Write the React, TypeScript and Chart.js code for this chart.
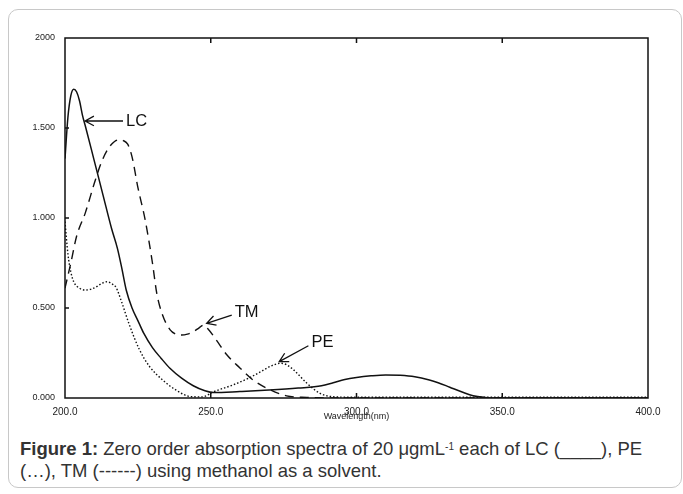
import React, { useEffect, useRef } from "react";
import { Chart, registerables } from "chart.js";

Chart.register(...registerables);

// LC (solid)
const lcWavelength = [200, 201, 202, 203, 204, 205, 206, 207, 210, 213, 216, 218, 219.5, 221, 223, 225, 227, 230, 233, 236, 240, 244, 248, 251, 260, 270, 280, 288, 292, 296, 300, 305, 310, 315, 320, 325, 328, 332, 336, 340, 344, 348, 400];
const lcAbsorbance = [1.33, 1.56, 1.68, 1.715, 1.7, 1.65, 1.57, 1.51, 1.32, 1.13, 0.94, 0.83, 0.72, 0.6, 0.5, 0.43, 0.36, 0.28, 0.22, 0.165, 0.11, 0.068, 0.04, 0.03, 0.036, 0.044, 0.055, 0.068, 0.085, 0.103, 0.114, 0.123, 0.128, 0.126, 0.118, 0.1, 0.085, 0.06, 0.035, 0.012, 0.003, 0.0, 0.0];

// TM (dashed)
const tmWavelength = [200, 202, 204, 207, 210, 212.5, 215, 217, 218.5, 220, 221.5, 223, 225, 227.5, 230, 231.5, 233.5, 236, 238, 240, 242, 244, 246, 247.5, 249, 252, 255.5, 260, 264.5, 270, 276, 283, 290, 400];
const tmAbsorbance = [0.61, 0.75, 0.9, 1.03, 1.19, 1.31, 1.39, 1.425, 1.435, 1.43, 1.41, 1.34, 1.17, 0.99, 0.75, 0.58, 0.46, 0.38, 0.355, 0.35, 0.355, 0.368, 0.39, 0.405, 0.385, 0.32, 0.24, 0.167, 0.1, 0.048, 0.012, 0.003, 0.0, 0.0];

// PE (dotted)
const peWavelength = [200, 201, 202, 203, 205, 207, 209, 211, 213, 214.5, 216, 217.5, 219.5, 222, 225.5, 229, 233.5, 238, 243, 247, 251, 257.5, 263, 267, 271, 274, 276, 278.5, 283, 287.5, 292, 300, 400];
const peAbsorbance = [0.98, 0.8, 0.7, 0.645, 0.61, 0.6, 0.605, 0.62, 0.64, 0.646, 0.635, 0.615, 0.53, 0.41, 0.27, 0.175, 0.1, 0.045, 0.008, 0.006, 0.035, 0.072, 0.11, 0.145, 0.18, 0.193, 0.185, 0.155, 0.082, 0.026, 0.007, 0.004, 0.004];

const xTickValues = [200, 250, 300, 350, 400];
const xTickLabels = ["200.0", "250.0", "300.0", "350.0", "400.0"];
const yTickValues = [0, 0.5, 1, 1.5, 2];
const yTickLabels = ["0.000", "0.500", "1.000", "1.500", "2000"];

// annotations
const annotationLabels = ["LC", "TM", "PE"];
const annotationTips = [[206.9, 1.539], [248.6, 0.415], [273.5, 0.202]];
const annotationTails = [[219.9, 1.539], [257.2, 0.461], [283.5, 0.29]];

const toPoints = (xs: number[], ys: number[]) => xs.map((x, i) => ({ x, y: ys[i] }));

const framePlugin = {
  id: "frame",
  afterDatasetsDraw(chart: any) {
    const { ctx, chartArea: a, scales } = chart;
    const xs = scales.x;
    const ys = scales.y;
    ctx.save();
    ctx.strokeStyle = "#111";
    ctx.lineWidth = 1.5;
    ctx.strokeRect(a.left, a.top, a.right - a.left, a.bottom - a.top);
    ctx.beginPath();
    xTickValues.slice(1, -1).forEach((v) => {
      const px = xs.getPixelForValue(v);
      ctx.moveTo(px, a.bottom);
      ctx.lineTo(px, a.bottom - 5);
      ctx.moveTo(px, a.top);
      ctx.lineTo(px, a.top + 5);
    });
    yTickValues.slice(1, -1).forEach((v) => {
      const py = ys.getPixelForValue(v);
      ctx.moveTo(a.left, py);
      ctx.lineTo(a.left + 4, py);
    });
    ctx.stroke();

    // axis title
    ctx.fillStyle = "#222";
    ctx.font = "9px 'Liberation Sans', Arial, sans-serif";
    ctx.textAlign = "center";
    ctx.textBaseline = "middle";
    ctx.fillText("Wavelength(nm)", xs.getPixelForValue(300), a.bottom + 19);

    // annotations
    ctx.strokeStyle = "#111";
    ctx.lineWidth = 1.3;
    ctx.font = "16.5px 'Liberation Sans', Arial, sans-serif";
    ctx.textAlign = "left";
    annotationLabels.forEach((label, i) => {
      const tx = xs.getPixelForValue(annotationTips[i][0]);
      const ty = ys.getPixelForValue(annotationTips[i][1]);
      const sx = xs.getPixelForValue(annotationTails[i][0]);
      const sy = ys.getPixelForValue(annotationTails[i][1]);
      const ang = Math.atan2(ty - sy, tx - sx);
      const head = 10;
      const spread = 0.5;
      ctx.beginPath();
      ctx.moveTo(sx, sy);
      ctx.lineTo(tx, ty);
      ctx.moveTo(tx - head * Math.cos(ang - spread), ty - head * Math.sin(ang - spread));
      ctx.lineTo(tx, ty);
      ctx.lineTo(tx - head * Math.cos(ang + spread), ty - head * Math.sin(ang + spread));
      ctx.stroke();
      ctx.fillStyle = "#111";
      ctx.fillText(label, sx + 3, sy - (i === 0 ? 0 : 3));
    });
    ctx.restore();
  },
};

export default function App() {
  const canvasRef = useRef<HTMLCanvasElement | null>(null);

  useEffect(() => {
    if (!canvasRef.current) return;
    const family = "'Liberation Sans', Arial, sans-serif";
    const chart = new Chart(canvasRef.current, {
      type: "line",
      data: {
        datasets: [
          {
            label: "LC",
            data: toPoints(lcWavelength, lcAbsorbance),
            borderColor: "#111",
            borderWidth: 1.5,
            pointRadius: 0,
            cubicInterpolationMode: "monotone",
            fill: false,
          },
          {
            label: "TM",
            data: toPoints(tmWavelength, tmAbsorbance),
            borderColor: "#111",
            borderWidth: 1.4,
            borderDash: [9, 6],
            pointRadius: 0,
            cubicInterpolationMode: "monotone",
            fill: false,
          },
          {
            label: "PE",
            data: toPoints(peWavelength, peAbsorbance),
            borderColor: "#111",
            borderWidth: 1.4,
            borderDash: [1.5, 2],
            pointRadius: 0,
            cubicInterpolationMode: "monotone",
            fill: false,
          },
        ],
      },
      options: {
        responsive: false,
        animation: false,
        devicePixelRatio: 1,
        layout: { padding: { top: 38, right: 35, left: 0, bottom: 0 } },
        plugins: { legend: { display: false }, tooltip: { enabled: false } },
        scales: {
          x: {
            type: "linear",
            min: 200,
            max: 400,
            grid: { display: false },
            border: { display: false },
            afterBuildTicks: (s: any) => {
              s.ticks = xTickValues.map((v) => ({ value: v }));
            },
            afterFit: (s: any) => {
              s.height = 32;
            },
            ticks: {
              color: "#222",
              font: { family, size: 10 },
              padding: 0,
              maxRotation: 0,
              autoSkip: false,
              callback: (v: any) => xTickLabels[xTickValues.indexOf(Number(v))] ?? "",
            },
          },
          y: {
            type: "linear",
            min: 0,
            max: 2,
            grid: { display: false },
            border: { display: false },
            afterBuildTicks: (s: any) => {
              s.ticks = yTickValues.map((v) => ({ value: v }));
            },
            afterFit: (s: any) => {
              s.width = 65;
            },
            ticks: {
              color: "#222",
              font: { family, size: 9 },
              padding: 2,
              autoSkip: false,
              callback: (v: any) => yTickLabels[yTickValues.indexOf(Number(v))] ?? "",
            },
          },
        },
      },
      plugins: [framePlugin],
    } as any);
    return () => chart.destroy();
  }, []);

  return (
    <div>
      <div
        style={{
          position: "absolute",
          left: 8,
          top: 9,
          width: 674,
          height: 479,
          boxSizing: "border-box",
          border: "1px solid #c8c8c8",
          borderRadius: 10,
        }}
      />
      <canvas
        ref={canvasRef}
        width={683}
        height={430}
        style={{ position: "absolute", left: 0, top: 0, width: 683, height: 430 }}
      />
      <div
        style={{
          position: "absolute",
          left: 20,
          top: 438,
          width: 660,
          whiteSpace: "nowrap",
          fontFamily: "'Liberation Sans', Arial, sans-serif",
          fontSize: 18.5,
          lineHeight: "22px",
          color: "#333",
        }}
      >
        <b>Figure 1:</b> Zero order absorption spectra of 20 μgmL
        <sup style={{ fontSize: 10, verticalAlign: "top", position: "relative", top: -2 }}>-1</sup> each of LC (____), PE
        <br />
        (…), TM (------) using methanol as a solvent.
      </div>
    </div>
  );
}
